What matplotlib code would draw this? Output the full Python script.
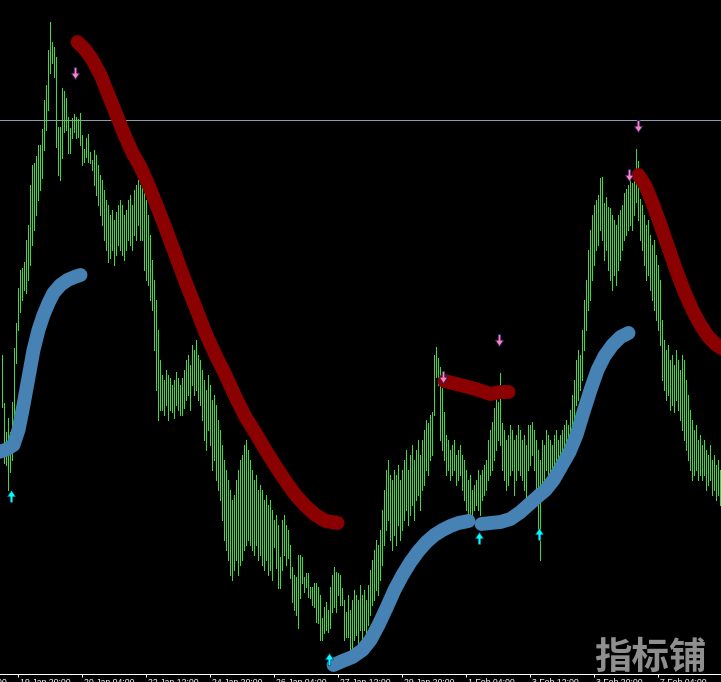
import matplotlib
matplotlib.use("Agg")
import matplotlib.pyplot as plt
import matplotlib.transforms as mtransforms
import numpy as np

# bar highs / lows (price points), one bar per slot
highs = [
    319, 271, 242, 256, 242, 272, 326, 351, 386, 404,
    406, 412, 434, 449, 489, 509, 511, 518, 529, 529,
    545, 574, 589, 624, 652, 632, 627, 617, 547, 547,
    586, 583, 576, 557, 546, 556, 560, 557, 555, 561,
    539, 525, 536, 540, 522, 514, 524, 519, 509, 499,
    494, 484, 474, 469, 459, 464, 454, 462, 469, 474,
    469, 459, 464, 474, 479, 469, 484, 489, 494, 489,
    499, 484, 474, 459, 439, 414, 394, 374, 344, 314,
    299, 294, 304, 299, 296, 289, 294, 302, 296, 289,
    296, 304, 314, 319, 309, 329, 324, 334, 319, 314,
    304, 294, 284, 299, 289, 274, 279, 269, 254, 244,
    229, 214, 204, 194, 184, 174, 179, 194, 204, 214,
    219, 229, 234, 224, 214, 204, 194, 199, 184, 189,
    184, 174, 179, 169, 174, 164, 154, 159, 149, 117,
    154, 159, 149, 144, 129, 107, 99, 97, 119, 119,
    117, 97, 101, 101, 87, 87, 91, 91, 87, 79,
    56, 67, 72, 64, 87, 99, 107, 102, 101, 99,
    86, 74, 62, 79, 64, 74, 84, 79, 74, 89,
    79, 84, 74, 89, 104, 114, 124, 134, 129, 144,
    164, 184, 204, 214, 199, 194, 204, 199, 209, 194,
    204, 214, 224, 204, 219, 229, 214, 224, 234, 219,
    234, 244, 254, 251, 259, 262, 319, 327, 316, 307,
    286, 262, 239, 234, 224, 229, 234, 219, 224, 229,
    219, 214, 204, 194, 199, 184, 189, 194, 204, 199,
    204, 209, 214, 234, 244, 252, 266, 276, 272, 301,
    251, 244, 234, 239, 249, 244, 234, 239, 249, 244,
    234, 239, 229, 249, 249, 252, 244, 234, 224, 214,
    234, 229, 244, 239, 234, 229, 239, 244, 234, 239,
    244, 249, 254, 249, 264, 279, 294, 314, 324, 319,
    344, 374, 394, 424, 444, 459, 469, 474, 479, 496,
    497, 471, 477, 467, 466, 459, 454, 449, 459, 464,
    469, 481, 485, 489, 497, 491, 496, 525, 513, 475,
    469, 459, 449, 454, 439, 429, 434, 419, 409, 394,
    354, 334, 324, 329, 314, 319, 309, 324, 314, 304,
    319, 314, 294, 279, 264, 254, 244, 249, 234, 239,
    229, 234, 224, 219, 229, 214, 219, 209, 214, 204,
]
lows = [
    267, 211, 209, 184, 202, 214, 254, 311, 344, 362,
    374, 384, 381, 394, 409, 429, 444, 459, 474, 484,
    496, 524, 544, 564, 601, 611, 597, 527, 499, 494,
    516, 542, 544, 521, 521, 536, 542, 536, 537, 529,
    509, 512, 517, 512, 511, 504, 489, 479, 469, 459,
    449, 434, 424, 412, 416, 424, 409, 419, 429, 424,
    419, 414, 424, 434, 429, 424, 439, 434, 449, 434,
    434, 404, 394, 389, 374, 364, 324, 284, 254, 264,
    264, 259, 269, 254, 264, 262, 256, 269, 264, 259,
    259, 266, 274, 279, 264, 289, 279, 284, 274, 269,
    254, 234, 224, 244, 229, 204, 214, 194, 184, 174,
    154, 134, 124, 114, 99, 94, 104, 114, 99, 109,
    114, 124, 129, 134, 129, 124, 119, 129, 114, 119,
    109, 104, 114, 99, 104, 94, 127, 106, 86, 86,
    104, 119, 109, 116, 96, 72, 64, 59, 46, 76,
    91, 82, 87, 77, 76, 69, 67, 52, 51, 34,
    34, 41, 44, 42, 46, 62, 67, 62, 79, 69,
    69, 34, 37, 37, 24, 19, 34, 39, 29, 44,
    34, 44, 29, 49, 59, 69, 74, 84, 79, 94,
    109, 129, 144, 154, 134, 124, 139, 129, 149, 134,
    144, 154, 164, 149, 159, 169, 154, 174, 179, 164,
    184, 189, 204, 199, 214, 219, 259, 297, 289, 234,
    224, 214, 199, 204, 194, 199, 204, 189, 194, 199,
    184, 174, 164, 159, 154, 156, 164, 169, 164, 159,
    174, 179, 184, 194, 199, 204, 214, 224, 234, 229,
    204, 194, 184, 189, 199, 204, 179, 194, 204, 199,
    194, 184, 174, 204, 209, 219, 204, 179, 144, 114,
    184, 189, 204, 199, 194, 204, 209, 214, 204, 219,
    214, 219, 224, 229, 234, 244, 254, 269, 274, 284,
    294, 324, 344, 364, 374, 394, 409, 424, 429, 444,
    434, 414, 424, 404, 394, 384, 399, 389, 404, 414,
    424, 434, 439, 444, 449, 444, 459, 472, 454, 434,
    424, 409, 394, 399, 384, 374, 364, 354, 344, 329,
    294, 284, 274, 279, 264, 269, 262, 274, 264, 254,
    244, 234, 224, 214, 204, 194, 199, 204, 194, 199,
    194, 199, 184, 189, 194, 179, 184, 174, 179, 169,
]

# trend line segments (bar position, price)
red1_x = [38, 42, 45.5, 49.5, 53.5, 57.5, 61.5, 65.5, 69.5, 73.5, 77.5, 82, 87, 92, 97,
          102, 107, 112, 117, 122, 127, 132, 137, 142, 147, 152, 157, 162, 168]
red1_y = [632, 624, 614, 599, 579, 559, 539, 521, 507, 489, 469, 446, 419, 392, 367,
          341, 319, 299, 277, 257, 241, 224, 208, 193, 179, 168, 159, 153, 151]
red2_x = [221.5, 229.5, 237, 244.5, 249.5, 253.5]
red2_y = [293, 289, 285, 280, 282, 282]
red3_x = [318.5, 322, 325.5, 329.5, 333.5, 337.5, 341.5, 345.5, 349.5, 353.5, 357.5, 361.5]
red3_y = [499, 488, 471, 449, 426, 403, 382, 364, 349, 337, 329, 324]

blue1_x = [-1.5, 2, 6, 8.5, 11, 13, 16, 18.5, 21, 23.5, 26, 29.5, 33, 36.5, 39.5]
blue1_y = [222, 224, 229, 244, 269, 291, 324, 344, 359, 371, 381, 389, 394, 397, 399]
blue2_x = [166, 170.5, 175.5, 180.5, 184.5, 188.5, 192.5, 196.5, 200.5, 204.5, 208.5,
           212.5, 216.5, 220.5, 224.5, 228.5, 233.5]
blue2_y = [9, 13, 17, 24, 34, 49, 66, 84, 99, 112, 123, 132, 139, 144, 148, 151, 153]
blue3_x = [240, 244.5, 249.5, 254.5, 259.5, 264.5, 268.5, 272, 276, 280, 284, 287.5,
           291, 294.5, 298, 301.5, 305.5, 309.5, 313.5]
blue3_y = [150, 151, 152, 155, 162, 171, 178, 184, 194, 208, 222, 239, 262, 284, 304,
           318, 329, 337, 341]

# signal arrows
sell_x = [36.5, 220.5, 248.5, 318, 313.5]
sell_y = [601, 297, 334, 548, 499]
buy_x = [4.5, 163.5, 238.5, 268.5]
buy_y = [178, 15, 136, 140]

level = 554

tick_pos = [-24, 8, 40, 72, 104, 136, 168, 200, 232, 264, 296, 328]
tick_labels = ["18 Jan 12:00", "19 Jan 20:00", "20 Jan 04:00", "22 Jan 12:00",
               "24 Jan 20:00", "26 Jan 04:00", "27 Jan 12:00", "29 Jan 20:00",
               "1 Feb 04:00", "3 Feb 12:00", "3 Feb 20:00", "7 Feb 04:00"]

# arrow glyph shapes
down_arrow = [(-0.22, 1), (0.22, 1), (0.22, 0.05), (0.7, 0.05), (0, -1),
              (-0.7, 0.05), (-0.22, 0.05), (-0.22, 1)]
up_arrow = [(x, -y) for x, y in down_arrow]

fig = plt.figure(figsize=(7.21, 6.82), dpi=100, facecolor="black")
ax = fig.add_axes([0, 8 / 682, 1, 674 / 682])
ax.set_facecolor("black")

idx = np.arange(len(highs))
ax.vlines(idx, lows, highs, colors="#3ddc3d", linewidth=0.72, antialiased=False, zorder=2)

ax.axhline(level, color="#8d9bb5", lw=0.72, zorder=1)

for xs, ys in [(red1_x, red1_y), (red2_x, red2_y), (red3_x, red3_y)]:
    ax.plot(xs, ys, color="#8b0000", lw=10, solid_capstyle="round",
            solid_joinstyle="round", zorder=3)
for xs, ys in [(blue1_x, blue1_y), (blue2_x, blue2_y), (blue3_x, blue3_y)]:
    ax.plot(xs, ys, color="#4682b4", lw=10, solid_capstyle="round",
            solid_joinstyle="round", zorder=3)

ax.scatter(sell_x, sell_y, marker=down_arrow, s=75, color="#ff80c0",
           edgecolors="#22225a", linewidths=0.6, zorder=5)
ax.scatter(buy_x, buy_y, marker=up_arrow, s=75, color="#00ffff",
           edgecolors="#0a3a5a", linewidths=0.4, zorder=5)

ax.set_xticks(tick_pos[1:])
ax.set_xticklabels([])
ax.set_xlim(-0.75, 359.75)
ax.set_ylim(0, 674)
for s in ["top", "left", "right"]:
    ax.spines[s].set_visible(False)
ax.spines["bottom"].set_color("white")
ax.spines["bottom"].set_linewidth(0.72)
ax.set_yticks([])
ax.tick_params(axis="x", colors="white", length=2.2, width=0.72, direction="out")

trans = mtransforms.blended_transform_factory(ax.transData, ax.transAxes)
off = mtransforms.ScaledTranslation(2 / 100, -4 / 100, fig.dpi_scale_trans)
for p, lab in zip(tick_pos, tick_labels):
    ax.text(p, 0, lab, transform=trans + off, ha="left", va="top", color="white",
            fontsize=6.3, family="Liberation Sans", clip_on=False)

fig.text(650 / 721, 25 / 682, "指标铺", color="#8f8f8f", fontsize=27,
         fontweight="bold", family=["Noto Sans CJK SC", "DejaVu Sans"],
         ha="center", va="center")

fig.savefig("out.png", dpi=100, facecolor="black")
